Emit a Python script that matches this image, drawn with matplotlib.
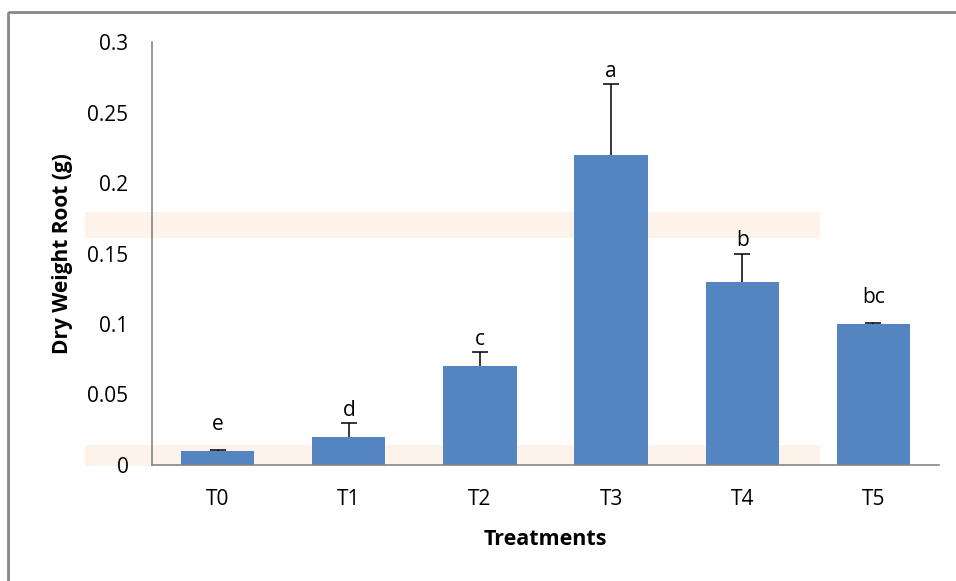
import matplotlib.pyplot as plt
import numpy as np

treatments = ["T0", "T1", "T2", "T3", "T4", "T5"]
dry_weight = [0.01, 0.02, 0.07, 0.22, 0.13, 0.10]
err_upper = [0.0005, 0.01, 0.01, 0.05, 0.02, 0.0005]
letters = ["e", "d", "c", "a", "b", "bc"]

plt.rcParams['font.family'] = ['Open Sans', 'DejaVu Sans']

fig = plt.figure(figsize=(9.56, 5.81), dpi=100)

# background layer: faint bands of the scanned page and the chart border
bg = fig.add_axes([0, 0, 1, 1], zorder=-1)
bg.set_xlim(0, 956)
bg.set_ylim(581, 0)
bg.axis("off")
bg.add_patch(plt.Rectangle((85, 212), 735, 26, facecolor="#fdf3eb", edgecolor="none"))
bg.add_patch(plt.Rectangle((85, 445), 735, 21, facecolor="#fdf3eb", edgecolor="none"))
bg.add_patch(plt.Rectangle((8, 12), 1000, 600, facecolor="none", edgecolor="#888888", linewidth=2))

ax = fig.add_axes([152/956, 116/581, 787/956, 423/581])
ax.patch.set_alpha(0)

x = np.arange(len(treatments))
tops = np.array(dry_weight) + np.array(err_upper)
ax.bar(x, dry_weight, width=0.56, color="#5585c1", zorder=2)
# upper-only error bars (no cap at the bar top)
ax.vlines(x, dry_weight, tops, color="black", linewidth=1.1, zorder=3)
ax.plot(x, tops, linestyle="none", marker="_", markersize=11, markeredgewidth=1.1,
        color="black", zorder=3)

for xi, v, e, lab in zip(x, dry_weight, err_upper, letters):
    ax.text(xi, max(v + e + 0.009, v + 0.019), lab, ha="center", va="center", fontsize=15)

ax.set_xlim(-0.5, len(treatments) - 0.5)
ax.set_ylim(0, 0.3)
ax.set_yticks(np.arange(0, 0.31, 0.05))
ax.set_yticklabels(["0", "0.05", "0.1", "0.15", "0.2", "0.25", "0.3"])
ax.set_xticks(x)
ax.set_xticklabels(treatments)
ax.tick_params(axis="both", length=0, labelsize=15)
ax.tick_params(axis="x", pad=17)
ax.tick_params(axis="y", pad=17)

for s in ["top", "right"]:
    ax.spines[s].set_visible(False)
for s in ["left", "bottom"]:
    ax.spines[s].set_color("#868686")
    ax.spines[s].set_linewidth(1.2)

ax.set_xlabel("Treatments", fontsize=15.5, fontweight="bold", labelpad=14)
ax.set_ylabel("Dry Weight Root (g)", fontsize=15, fontweight="bold", labelpad=10)

fig.savefig("out.png", dpi=100)
